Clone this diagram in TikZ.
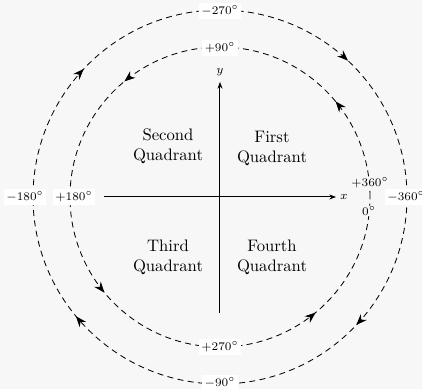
\documentclass[tikz,border=0pt]{standalone}
\usepackage{amsmath, amssymb}
\usepackage{tikz}
\usetikzlibrary{arrows.meta, decorations.markings}

\begin{document}
\begin{tikzpicture}[
    x=0.6pt, y=0.6pt,
    >={Stealth[length=6.5pt, width=5pt]},
    every node/.style={font=\scriptsize},
    quad/.style={align=center, font=\normalsize},
    deg/.style={fill=white, inner sep=1.5pt},
    bare/.style={fill=gray!6, inner sep=0.5pt},
    axis/.style={-{Stealth[length=4pt, width=3pt]}, semithick},
    turn/.style={line width=0.5pt, dash pattern=on 3.6pt off 2.6pt,
        postaction={decorate}},
    ccw/.style={turn, decoration={markings,
        mark=at position 0.11 with {\arrow{>}},
        mark=at position 0.36 with {\arrow{>}},
        mark=at position 0.61 with {\arrow{>}},
        mark=at position 0.86 with {\arrow{>}}}},
    cw/.style={turn, decoration={markings,
        mark=at position 0.12 with {\arrow{>}},
        mark=at position 0.39 with {\arrow{>}},
        mark=at position 0.62 with {\arrow{>}},
        mark=at position 0.87 with {\arrow{>}}}}
]
    % frame
    \fill[gray!6] (-220,-192) rectangle (202,197);
    \useasboundingbox (-220,-192) rectangle (202,197);

    % axes
    \coordinate (o) at (0,0);
    \coordinate (xw) at (-116,0);
    \coordinate (xe) at (116,0);
    \coordinate (ys) at (0,-116);
    \coordinate (yn) at (0,115);
    \draw[axis] (xw) -- (xe);
    \draw[axis] (ys) -- (yn);
    \node (xlab) at (124,0) {$x$};
    \node (ylab) at (0,125) {$y$};

    % positive (inner) and negative (outer) turns
    \draw[ccw] (o) ++(150,0) arc[start angle=0, end angle=360, radius=150];
    \draw[cw] (o) ++(187,0) arc[start angle=0, end angle=-360, radius=187];

    \node[quad] (q2) at (-52,51) {Second\\Quadrant};
    \node[quad] (q1) at (52,49) {First\\Quadrant};
    \node[quad] (q3) at (-52,-60) {Third\\Quadrant};
    \node[quad] (q4) at (52,-60) {Fourth\\Quadrant};

    \node[deg] (m270) at (0,186) {$-270^\circ$};
    \node[deg] (p90) at (0,149) {$+90^\circ$};
    \node[deg] (p270) at (0,-150) {$+270^\circ$};
    \node[deg] (m90) at (0,-186) {$-90^\circ$};
    \node[deg] (m180) at (-195,0) {$-180^\circ$};
    \node[deg] (p180) at (-146,0) {$+180^\circ$};
    \node[deg] (m360) at (186,0) {$-360^\circ$};
    \node[bare] (p360) at (150,14) {$+360^\circ$};
    \node[bare] (zero) at (149,-14) {$0^\circ$};
\end{tikzpicture}
\end{document}
